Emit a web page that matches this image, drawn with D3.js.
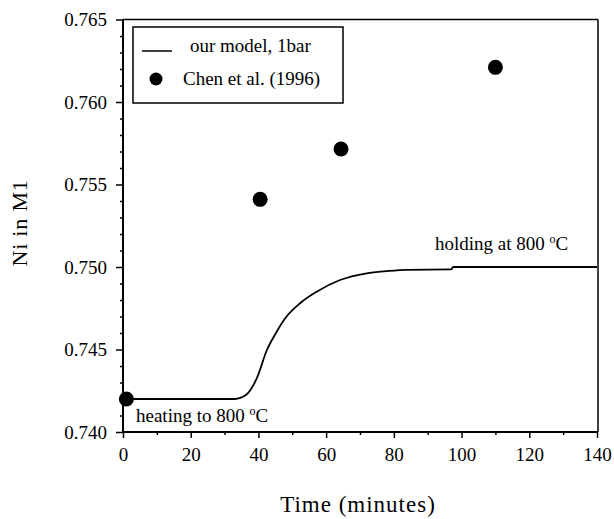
<!DOCTYPE html>
<html>
<head>
<meta charset="utf-8">
<script src="https://cdn.jsdelivr.net/npm/d3@7"></script>
<style>
  html, body { margin: 0; padding: 0; background: #fff; }
  svg { display: block; font-family: "Liberation Serif", "Times New Roman", serif; }
</style>
</head>
<body>
<svg id="chart" width="614" height="519"></svg>
<script>
// ---- data ----
const modelTime = [0.5, 33, 36.3, 39.5, 42.5, 45.4, 47.9, 52.3, 57.2, 64.1, 72, 77.9, 83.8, 97, 97.5, 140];
const modelNi   = [0.742, 0.742, 0.74224, 0.74325, 0.74497, 0.74608, 0.74689, 0.7478, 0.7485, 0.74921, 0.74962, 0.74975, 0.74983, 0.74985, 0.75, 0.75];
const chenTime  = [1, 40.5, 64.4, 110];
const chenNi    = [0.742, 0.7541, 0.75715, 0.7621];
const xTicks    = [0, 20, 40, 60, 80, 100, 120, 140];
const xMinor    = [10, 30, 50, 70, 90, 110, 130];
const yTicks    = [0.740, 0.745, 0.750, 0.755, 0.760, 0.765];
const yMinor    = d3.range(0, 26).map(i => +(0.740 + i * 0.001).toFixed(3)).filter(v => !yTicks.includes(v));
const legendLabels = ["our model, 1bar", "Chen et al. (1996)"];
const xTitle = "Time (minutes)";
const yTitle = "Ni in M1";

// ---- layout ----
const L = 123, R = 597, T = 19.5, B = 432;
const svg = d3.select("#chart");
const x = d3.scaleLinear().domain([0, 140]).range([L, R]);
const y = d3.scaleLinear().domain([0.740, 0.765]).range([B, T]);

// frame (top & right)
svg.append("line").attr("x1", L).attr("x2", R + 1).attr("y1", T).attr("y2", T)
  .attr("stroke", "#000").attr("stroke-width", 1.5);
svg.append("line").attr("x1", R + 1).attr("x2", R + 1).attr("y1", T).attr("y2", B)
  .attr("stroke", "#000").attr("stroke-width", 1.5);

// axes
const xAxis = svg.append("g").attr("transform", `translate(0,${B})`)
  .call(d3.axisBottom(x).tickValues(xTicks).tickSize(6).tickPadding(10).tickFormat(d3.format("d")));
svg.append("g").attr("transform", `translate(0,${B})`)
  .call(d3.axisBottom(x).tickValues(xMinor).tickSize(3).tickFormat(""))
  .call(g => g.select(".domain").remove());
const yAxis = svg.append("g").attr("transform", `translate(${L},0)`)
  .call(d3.axisLeft(y).tickValues(yTicks).tickSize(7).tickPadding(9).tickFormat(d3.format(".3f")));
svg.append("g").attr("transform", `translate(${L},0)`)
  .call(d3.axisLeft(y).tickValues(yMinor).tickSize(3).tickFormat(""))
  .call(g => g.select(".domain").remove());

svg.selectAll(".domain").attr("stroke-width", 2).attr("stroke", "#000");
svg.selectAll(".tick line").attr("stroke", "#000").attr("stroke-width", 1.5);
xAxis.selectAll(".tick text").attr("font-size", 19).attr("fill", "#000").attr("font-family", "Liberation Serif");
yAxis.selectAll(".tick text").attr("font-size", 19).attr("fill", "#000").attr("font-family", "Liberation Serif");
xAxis.select(".domain").attr("d", `M${L},0H${R + 1}`);
yAxis.select(".domain").attr("d", `M0,${B}V${T}`);

// axis titles
svg.append("text").attr("x", 358).attr("y", 512).attr("text-anchor", "middle")
  .attr("font-size", 23).attr("letter-spacing", 1).text(xTitle);
svg.append("text").attr("transform", "translate(27,223) rotate(-90)").attr("text-anchor", "middle")
  .attr("font-size", 22).attr("letter-spacing", 0.8).text(yTitle);

// model line
const modelData = modelTime.map((t, i) => [t, modelNi[i]]);
svg.append("path").datum(modelData)
  .attr("fill", "none").attr("stroke", "#000").attr("stroke-width", 1.8)
  .attr("d", d3.line().x(d => x(d[0])).y(d => y(d[1])).curve(d3.curveMonotoneX));

// Chen points
svg.selectAll("circle.chen").data(chenTime.map((t, i) => [t, chenNi[i]]))
  .join("circle").attr("class", "chen")
  .attr("cx", d => x(d[0])).attr("cy", d => y(d[1])).attr("r", 7.5).attr("fill", "#000");

// annotations
function degText(tx, ty, pre) {
  const t = svg.append("text").attr("x", tx).attr("y", ty).attr("font-size", 19);
  t.append("tspan").text(pre);
  t.append("tspan").attr("font-size", 12).attr("dy", -7).text("o");
  t.append("tspan").attr("dy", 7).text("C");
}
degText(435, 250, "holding at 800 ");
degText(136, 422, "heating to 800 ");

// legend
svg.append("rect").attr("x", 133).attr("y", 27).attr("width", 210).attr("height", 76)
  .attr("fill", "#fff").attr("stroke", "#000").attr("stroke-width", 1.5);
svg.append("line").attr("x1", 142).attr("x2", 172).attr("y1", 51).attr("y2", 51)
  .attr("stroke", "#000").attr("stroke-width", 1.5);
svg.append("circle").attr("cx", 156).attr("cy", 79).attr("r", 6.5).attr("fill", "#000");
svg.append("text").attr("x", 190).attr("y", 52).attr("font-size", 19).text(legendLabels[0]);
svg.append("text").attr("x", 183).attr("y", 85).attr("font-size", 19).text(legendLabels[1]);
</script>
</body>
</html>
